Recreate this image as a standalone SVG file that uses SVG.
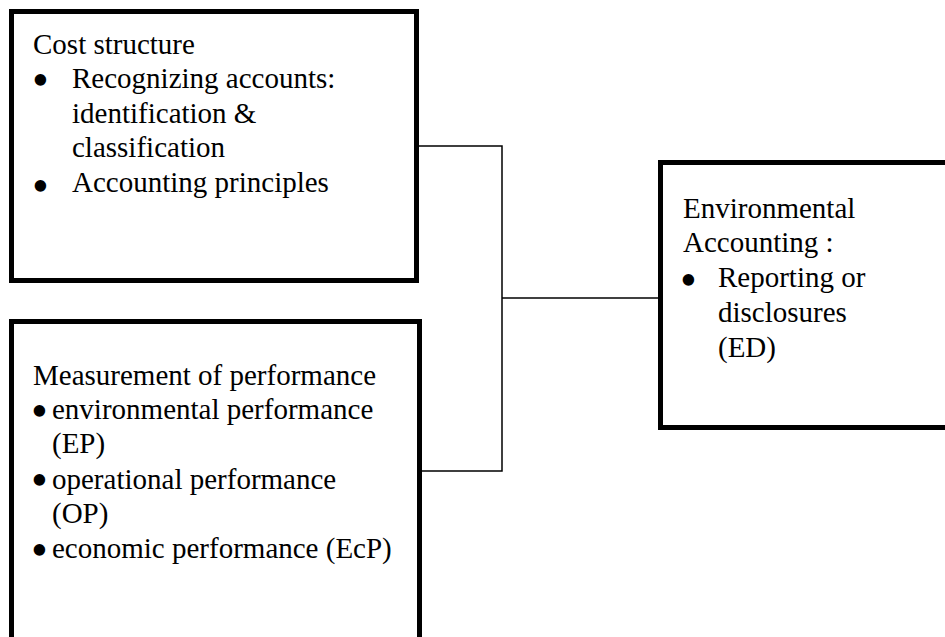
<svg xmlns="http://www.w3.org/2000/svg" width="945" height="637" viewBox="0 0 945 637">
  <style>
    .box { fill: #ffffff; stroke: #000000; stroke-width: 5; }
    .link { fill: none; stroke: #000000; stroke-width: 1.5; }
    text { font-family: "Liberation Serif", "DejaVu Serif", serif; font-size: 29px; fill: #000000; }
    .dot { font-size: 48px; }
  </style>
  <rect width="945" height="637" fill="#ffffff"/>

  <!-- connectors: bracket joining the two left boxes, then a line to the right box -->
  <g id="connectors">
    <polyline class="link" points="418,146 502,146 502,471 420,471"/>
    <line class="link" x1="502" y1="298" x2="659" y2="298"/>
  </g>

  <g id="cost-structure">
    <rect class="box" x="11.5" y="11.5" width="405" height="269"/>
    <text x="33" y="54">Cost structure</text>
    <text class="dot" x="32" y="96">•</text>
    <text x="72" y="88">Recognizing accounts:</text>
    <text x="72" y="123">identification &amp;</text>
    <text x="72" y="157">classification</text>
    <text class="dot" x="32" y="202">•</text>
    <text x="72" y="192">Accounting principles</text>
  </g>

  <g id="measurement-of-performance">
    <rect class="box" x="11.5" y="321.5" width="408" height="330"/>
    <text x="33" y="385">Measurement of performance</text>
    <text class="dot" x="31" y="427">•</text>
    <text x="52" y="419">environmental performance</text>
    <text x="52" y="453">(EP)</text>
    <text class="dot" x="31" y="496">•</text>
    <text x="52" y="489">operational performance</text>
    <text x="52" y="523">(OP)</text>
    <text class="dot" x="31" y="566">•</text>
    <text x="52" y="558">economic performance (EcP)</text>
  </g>

  <g id="environmental-accounting">
    <rect class="box" x="660.5" y="162.5" width="300" height="265"/>
    <text x="683" y="218">Environmental</text>
    <text x="683" y="252">Accounting :</text>
    <text class="dot" x="680" y="296">•</text>
    <text x="718" y="287">Reporting or</text>
    <text x="718" y="322">disclosures</text>
    <text x="718" y="357">(ED)</text>
  </g>
</svg>
